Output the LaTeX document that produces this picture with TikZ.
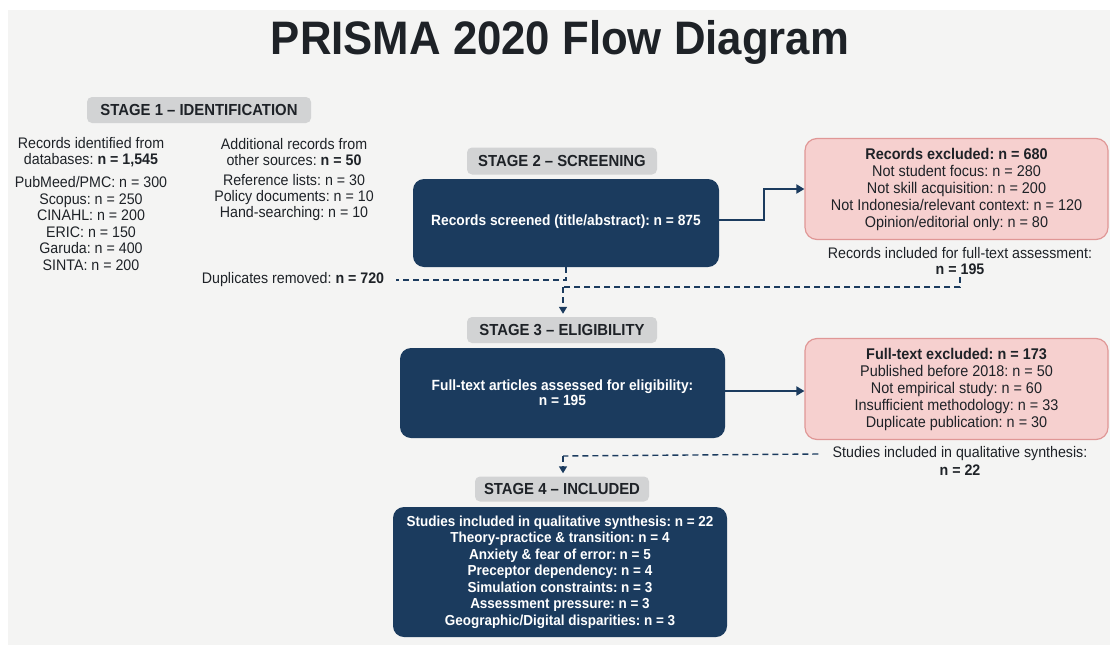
\documentclass[tikz,border=0pt]{standalone}
\usepackage{fontspec}
\setmainfont{Liberation Sans}[FakeStretch=0.93]
\usetikzlibrary{arrows.meta}
\definecolor{navy}{HTML}{1B3B5E}
\definecolor{bgc}{HTML}{F4F4F3}
\definecolor{lblc}{HTML}{D2D3D4}
\definecolor{pinkf}{HTML}{F6D0CF}
\definecolor{pinkd}{HTML}{E09796}
\definecolor{ink}{HTML}{1E2227}
\tikzset{
  stagelbl/.style={fill=lblc, rounded corners=5pt, text=ink, inner sep=0pt,
    font=\fontsize{16}{18}\selectfont\bfseries},
  navybox/.style={fill=navy, rounded corners=11pt, text=white, align=center, inner sep=0pt,
    font=\fontsize{14.8}{15}\selectfont\bfseries},
  pinkbox/.style={fill=pinkf, draw=pinkd, line width=1.2pt, rounded corners=12pt, align=center,
    inner sep=0pt, text=ink, font=\fontsize{15.5}{17}\selectfont},
  plaintxt/.style={align=center, text=ink, inner sep=0pt, font=\fontsize{15.3}{16.5}\selectfont},
  flow/.style={draw=navy, line width=1.8pt, -{Triangle[width=9pt,length=8pt]}},
  dashline/.style={draw=navy, line width=1.4pt, dash pattern=on 6pt off 4pt},
  dasharrow/.style={dashline, -{Triangle[width=8pt,length=7pt]}},
}
\begin{document}
\frenchspacing
\begin{tikzpicture}[x=1pt,y=-1pt]
\useasboundingbox (0,0) rectangle (1110,645);
\fill[white] (0,0) rectangle (1110,645);
\fill[bgc] (8,10) rectangle (1110,645);

% title
\node[text=ink, font=\fontsize{47}{50}\selectfont\bfseries] (title) at (560,42) {PRISMA 2020 Flow Diagram};

% stage 1
\node[stagelbl, minimum width=224pt, minimum height=26pt] (st1) at (199,110) {STAGE 1 -- IDENTIFICATION};
\node[plaintxt] (dbhead) at (91,152) {Records identified from\\databases: \textbf{n = 1,545}};
\node[plaintxt] (dblist) at (91,223.5) {PubMeed/PMC: n = 300\\Scopus: n = 250\\CINAHL: n = 200\\ERIC: n = 150\\Garuda: n = 400\\SINTA: n = 200};
\node[plaintxt] (othead) at (294,152) {Additional records from\\other sources: \textbf{n = 50}};
\node[plaintxt, font=\fontsize{15.3}{16}\selectfont] (otlist) at (294,198) {Reference lists: n = 30\\Policy documents: n = 10\\Hand-searching: n = 10};
\node[plaintxt] (dup) at (293,280) {Duplicates removed: \textbf{n = 720}};

% stage 2
\node[stagelbl, minimum width=190pt, minimum height=27pt] (st2) at (562,161) {STAGE 2 -- SCREENING};
\node[navybox, minimum width=306pt, minimum height=88pt] (s2) at (566,223) {\raisebox{5pt}{Records screened (title/abstract): n = 875}};
\node[pinkbox, minimum width=303pt, minimum height=101pt] (ex1) at (956.5,189)
  {\textbf{Records excluded: n = 680}\\Not student focus: n = 280\\Not skill acquisition: n = 200\\Not Indonesia/relevant context: n = 120\\Opinion/editorial only: n = 80};
\node[plaintxt, font=\fontsize{15.3}{16}\selectfont] (inc1) at (960,261) {Records included for full-text assessment:\\\textbf{n = 195}};

% stage 3
\node[stagelbl, minimum width=190pt, minimum height=26pt] (st3) at (562,330) {STAGE 3 -- ELIGIBILITY};
\node[navybox, minimum width=325pt, minimum height=90pt] (s3) at (562.5,393) {Full-text articles assessed for eligibility:\\n = 195};
\node[pinkbox, minimum width=303pt, minimum height=101pt] (ex2) at (956.5,389)
  {\textbf{Full-text excluded: n = 173}\\Published before 2018: n = 50\\Not empirical study: n = 60\\Insufficient methodology: n = 33\\Duplicate publication: n = 30};
\node[plaintxt] (inc2a) at (960,454) {Studies included in qualitative synthesis:};
\node[plaintxt] (inc2b) at (960,470) {\textbf{n = 22}};

% stage 4
\node[stagelbl, minimum width=174pt, minimum height=25pt] (st4) at (562,489) {STAGE 4 -- INCLUDED};
\node[navybox, minimum width=334pt, minimum height=130pt, font=\fontsize{14.5}{16.5}\selectfont\bfseries] (s4) at (560,572)
  {Studies included in qualitative synthesis: n = 22\\Theory-practice \& transition: n = 4\\Anxiety \& fear of error: n = 5\\Preceptor dependency: n = 4\\Simulation constraints: n = 3\\Assessment pressure: n = 3\\Geographic/Digital disparities: n = 3};

% connectors
\coordinate (j1) at (563,287);
\coordinate (j2) at (563,456);
\draw[flow] ([yshift=3pt]s2.east) -- ++(45,0) |- (ex1.west);
\draw[flow] ([yshift=2pt]s3.east) -- ([yshift=2pt]s3.east -| ex2.west);
\draw[dashline] (s2.south) |- ([xshift=12pt]dup.east);
\draw[dashline] ([yshift=-2pt]inc1.south) |- (j1);
\draw[dasharrow] (j1) -- ([yshift=3pt]st3.north -| j1);
\draw[dashline] ([xshift=-14pt]inc2a.west) -- (j2);
\draw[dasharrow] (j2) -- ([yshift=3pt]st4.north -| j2);
\end{tikzpicture}
\end{document}
